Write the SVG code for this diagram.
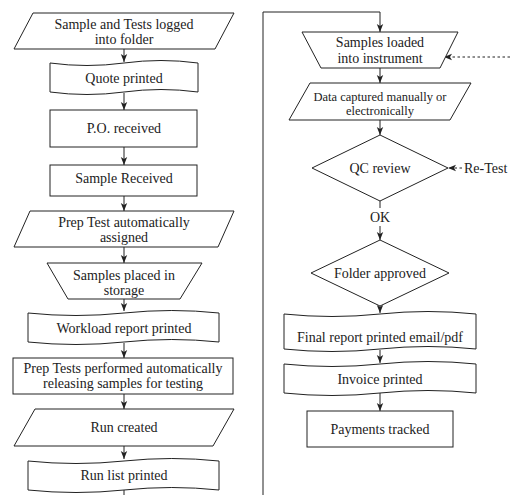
<svg xmlns="http://www.w3.org/2000/svg" width="510" height="495" viewBox="0 0 510 495">
<style>
.s{fill:#fff;stroke:#222;stroke-width:1}
.t{font-family:'Liberation Serif','DejaVu Serif',serif;font-size:14px;fill:#222;text-anchor:middle}
.sm{font-size:12.5px}
.c{fill:none;stroke:#222;stroke-width:1}
.d{fill:none;stroke:#222;stroke-width:1;stroke-dasharray:2.5,2.5}
</style>
<defs>
<marker id="ah" viewBox="0 0 8 8" refX="8" refY="4" markerWidth="8" markerHeight="8" markerUnits="userSpaceOnUse" orient="auto">
<path d="M0,0.8 L8,4 L0,7.2 L2,4 Z" fill="#222"/>
</marker>
</defs>
<rect width="510" height="495" fill="#fff"/>
<g id="connectors">
<line class="c" x1="124" y1="49" x2="124" y2="62" marker-end="url(#ah)"/>
<line class="c" x1="124" y1="93" x2="124" y2="110" marker-end="url(#ah)"/>
<line class="c" x1="124" y1="147" x2="124" y2="165" marker-end="url(#ah)"/>
<line class="c" x1="124" y1="196" x2="124" y2="211" marker-end="url(#ah)"/>
<line class="c" x1="124" y1="247" x2="124" y2="263" marker-end="url(#ah)"/>
<line class="c" x1="124" y1="299" x2="124" y2="311" marker-end="url(#ah)"/>
<line class="c" x1="124" y1="343" x2="124" y2="358" marker-end="url(#ah)"/>
<line class="c" x1="124" y1="394" x2="124" y2="409" marker-end="url(#ah)"/>
<line class="c" x1="124" y1="446" x2="124" y2="459" marker-end="url(#ah)"/>
<line class="c" x1="124" y1="490" x2="124" y2="495"/>
<polyline class="c" points="263,495 263,12 380,12 380,32" marker-end="url(#ah)"/>
<line class="c" x1="380" y1="68" x2="380" y2="83" marker-end="url(#ah)"/>
<line class="c" x1="380" y1="120" x2="380" y2="135" marker-end="url(#ah)"/>
<line class="c" x1="380" y1="201" x2="380" y2="208"/>
<line class="c" x1="380" y1="226" x2="380" y2="240" marker-end="url(#ah)"/>
<line class="c" x1="380" y1="306" x2="380" y2="313" marker-end="url(#ah)"/>
<line class="c" x1="380" y1="350" x2="380" y2="363" marker-end="url(#ah)"/>
<line class="c" x1="380" y1="393" x2="380" y2="411" marker-end="url(#ah)"/>
<line class="d" x1="510" y1="57" x2="444" y2="57" marker-end="url(#ah)"/>
<line class="d" x1="462" y1="168" x2="448" y2="168" marker-end="url(#ah)"/>
<text class="t" x="380" y="222">OK</text>
<text class="t" x="464" y="173" text-anchor="start" style="text-anchor:start">Re-Test</text>
</g>
<g id="n1">
<polygon class="s" points="33,13 234,13 215,49 14,49"/>
<text class="t" x="124" y="29">Sample and Tests logged</text>
<text class="t" x="124" y="44">into folder</text>
</g>
<g id="n2">
<path class="s" d="M50,63 Q87,68 124,63 Q161,58 198,63 L198,92 Q161,87 124,92 Q87,97 50,92 Z"/>
<text class="t" x="124" y="83">Quote printed</text>
</g>
<g id="n3">
<rect class="s" x="50" y="110" width="147" height="37"/>
<text class="t" x="124" y="133">P.O. received</text>
</g>
<g id="n4">
<rect class="s" x="50" y="165" width="147" height="31"/>
<text class="t" x="124" y="183">Sample Received</text>
</g>
<g id="n5">
<polygon class="s" points="30,211 234,211 218,247 14,247"/>
<text class="t" x="124" y="227">Prep Test automatically</text>
<text class="t" x="124" y="242">assigned</text>
</g>
<g id="n6">
<polygon class="s" points="47,263 202,263 180,299 68,299"/>
<text class="t" x="124" y="280">Samples placed in</text>
<text class="t" x="124" y="295">storage</text>
</g>
<g id="n7">
<path class="s" d="M28,313 Q76,318 124,313 Q172,308 219,313 L219,342 Q172,337 124,342 Q76,347 28,342 Z"/>
<text class="t" x="124" y="333">Workload report printed</text>
</g>
<g id="n8">
<rect class="s" x="13" y="358" width="220" height="36"/>
<text class="t" x="123" y="373">Prep Tests performed automatically</text>
<text class="t" x="123" y="388">releasing samples for testing</text>
</g>
<g id="n9">
<polygon class="s" points="35,409 234,409 213,446 14,446"/>
<text class="t" x="124" y="432">Run created</text>
</g>
<g id="n10">
<path class="s" d="M28,461 Q76,466 124,461 Q172,456 219,461 L219,490 Q172,485 124,490 Q76,495 28,490 Z"/>
<text class="t" x="124" y="480">Run list printed</text>
</g>
<g id="n11">
<polygon class="s" points="302,32 458,32 440,68 321,68"/>
<text class="t" x="380" y="47">Samples loaded</text>
<text class="t" x="380" y="63">into instrument</text>
</g>
<g id="n12">
<polygon class="s" points="310,83 471,83 450,120 289,120"/>
<text class="t sm" x="380" y="101">Data captured manually or</text>
<text class="t sm" x="380" y="115">electronically</text>
</g>
<g id="n13">
<polygon class="s" points="380,135 448,168 380,201 312,168"/>
<text class="t" x="380" y="173">QC review</text>
</g>
<g id="n14">
<polygon class="s" points="380,240 449,273 380,306 311,273"/>
<text class="t" x="380" y="278">Folder approved</text>
</g>
<g id="n15">
<path class="s" d="M284,314 Q332,319 380,314 Q428,309 476,314 L476,349 Q428,344 380,349 Q332,354 284,349 Z"/>
<text class="t" x="380" y="342">Final report printed email/pdf</text>
</g>
<g id="n16">
<path class="s" d="M284,364 Q332,369 380,364 Q428,359 476,364 L476,393 Q428,388 380,393 Q332,398 284,393 Z"/>
<text class="t" x="380" y="384">Invoice printed</text>
</g>
<g id="n17">
<rect class="s" x="307" y="411" width="146" height="36"/>
<text class="t" x="380" y="434">Payments tracked</text>
</g>
</svg>
